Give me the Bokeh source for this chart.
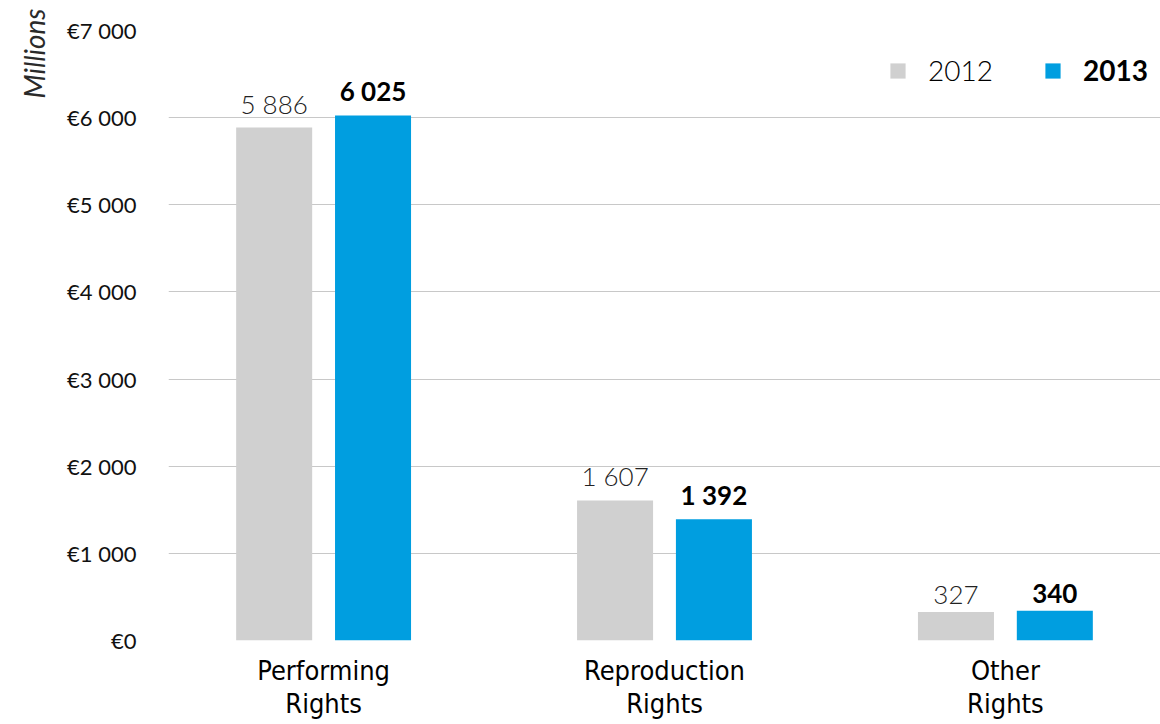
from bokeh.plotting import figure
from bokeh.models import (ColumnDataSource, FactorRange, Range1d, FixedTicker,
                          LabelSet, Legend, LegendItem, Title)
from bokeh.core.properties import value
from bokeh.transform import dodge
from bokeh.embed import file_html
from bokeh.resources import INLINE

# Collections by type of right, € millions
categories = ["Performing\nRights", "Reproduction\nRights", "Other\nRights"]
values_2012 = [5886, 1607, 327]
values_2013 = [6025, 1392, 340]
series_names = ["2012", "2013"]
y_ticks = [0, 1000, 2000, 3000, 4000, 5000, 6000, 7000]
y_tick_labels = ["€0", "€1 000", "€2 000", "€3 000", "€4 000", "€5 000", "€6 000", "€7 000"]

GREY = "#d0d0d0"
BLUE = "#009ee0"
FONT = "Lato"
FONT_LIGHT = "Lato Light, Lato"
FONT_NARROW = "DejaVu Sans Condensed, Lato"
OFFSET = 0.145
BAR_W = 0.223


def fmt(v):
    return f"{v:,}".replace(",", " ")


source = ColumnDataSource(dict(
    cat=categories,
    y2012=values_2012,
    y2013=values_2013,
    t2012=[fmt(v) for v in values_2012],
    t2013=[fmt(v) for v in values_2013],
))

p = figure(
    width=1160, height=724,
    x_range=FactorRange(factors=categories, range_padding=-0.045,
                        range_padding_units="absolute"),
    y_range=Range1d(0, 7000),
    output_backend="svg", toolbar_location=None,
    min_border_left=168, min_border_right=0,
    min_border_top=30, min_border_bottom=84,
    outline_line_color=None,
)

r12 = p.vbar(x=dodge("cat", -OFFSET, range=p.x_range), top="y2012", width=BAR_W,
             source=source, color=GREY, line_color=None)
r13 = p.vbar(x=dodge("cat", OFFSET, range=p.x_range), top="y2013", width=BAR_W,
             source=source, color=BLUE, line_color=None)

# value labels above bars
p.add_layout(LabelSet(x=dodge("cat", -OFFSET, range=p.x_range), y="y2012", text="t2012",
                      source=source, text_align="center", text_baseline="bottom",
                      y_offset=8, text_font=value(FONT_LIGHT), text_font_size="26px",
                      text_color="#222222"))
p.add_layout(LabelSet(x=dodge("cat", OFFSET, range=p.x_range), y="y2013", text="t2013",
                      source=source, text_align="center", text_baseline="bottom",
                      y_offset=8, text_font=value(FONT), text_font_size="26px",
                      text_font_style="bold", text_color="#000000"))

# y axis
p.yaxis.ticker = FixedTicker(ticks=y_ticks)
p.yaxis.major_label_overrides = {t: l for t, l in zip(y_ticks, y_tick_labels)}
p.yaxis.axis_line_color = None
p.yaxis.major_tick_line_color = None
p.yaxis.minor_tick_line_color = None
p.yaxis.major_label_standoff = 26
p.yaxis.major_label_text_font = FONT
p.yaxis.major_label_text_font_size = "22px"
p.yaxis.major_label_text_baseline = "alphabetic"
p.yaxis.major_label_text_color = "#111111"

# x axis
p.xaxis.axis_line_color = None
p.xaxis.major_tick_line_color = None
p.xaxis.minor_tick_line_color = None
p.xaxis.major_label_standoff = 8
p.xaxis.major_label_text_font = FONT_NARROW
p.xaxis.major_label_text_font_size = "27px"
p.xaxis.major_label_text_color = "#000000"
p.xaxis.major_label_text_line_height = 1.08

p.xgrid.grid_line_color = None
p.ygrid.grid_line_color = "#c8c8c8"
p.ygrid.grid_line_width = 1

# units caption, running up the left edge
p.add_layout(Title(text="Millions", align="right", text_font=FONT,
                   text_font_style="italic", text_font_size="28px",
                   text_color="#2a2a2a", offset=-22, standoff=28), "left")

# legend, one box per year so each label can carry its own weight
def make_legend(name, renderer, loc, font, style):
    lg = Legend(items=[LegendItem(label=name, renderers=[renderer])], location=loc,
                orientation="horizontal", padding=0, margin=0,
                border_line_color=None, background_fill_alpha=0,
                glyph_width=19, glyph_height=19, label_standoff=21,
                label_text_font=font, label_text_font_size="28px",
                label_text_font_style=style, label_text_color="#000000")
    p.add_layout(lg)

make_legend(series_names[0], r12, (720, 553), FONT_LIGHT, "normal")
make_legend(series_names[1], r13, (875, 553), FONT, "bold")

open("out.html", "w").write(file_html(p, INLINE))
